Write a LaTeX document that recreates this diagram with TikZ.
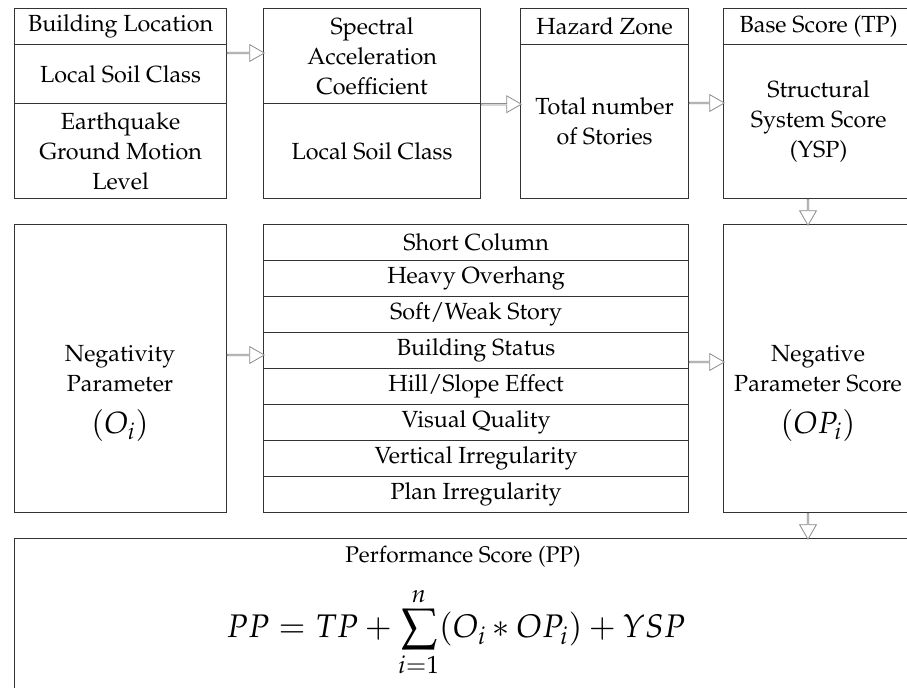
\documentclass[tikz,border=0pt]{standalone}
\usepackage[T1]{fontenc}
\usepackage{mathpazo}
\usetikzlibrary{shapes.arrows}

\begin{document}
\begin{tikzpicture}
  [x=0.75pt, y=-0.75pt
  ,box/.style={draw=black!80, line width=0.9pt, anchor=north west, align=center, inner sep=0pt, font=\fontsize{17.5}{22.5}\selectfont}
  ,txt/.style={align=center, inner sep=0pt, font=\fontsize{17.5}{22.5}\selectfont}
  ,flow/.style={single arrow, draw=black!45, fill=white, line width=0.6pt, inner sep=0pt, minimum width=12.5pt, single arrow head extend=3pt, single arrow tip angle=60, sloped, allow upside down}
  ,big/.style={font=\fontsize{23}{28}\selectfont}
  ]

  % Cell
  %
  % #1 - name
  % #2 - x position
  % #3 - y position
  % #4 - width
  % #5 - height
  % #6 - text
  \newcommand{\bcell}[6]{
    \node [box, minimum width=#4*0.75pt, minimum height=#5*0.75pt] (#1) at (#2,#3) {#6};
  }

  % Hollow arrow
  %
  % #1 - from
  % #2 - to
  % #3 - length
  \newcommand{\farrow}[3]{
    \path (#1) -- node [flow, minimum height=#3] {} (#2);
  }

  \useasboundingbox (0,0) rectangle (907,688);
  \clip (0,0) rectangle (907,688);

  % location
  \bcell{loc}{14}{8}{212}{36}{Building Location}
  \bcell{soil}{14}{44}{212}{59}{Local Soil Class}
  \bcell{motion}{14}{103}{212}{95}{Earthquake\\Ground Motion\\Level}

  % spectral
  \bcell{spec}{263}{8}{217}{95}{Spectral\\Acceleration\\Coefficient}
  \bcell{soil2}{263}{103}{217}{95}{Local Soil Class}

  % hazard
  \bcell{zone}{520}{8}{168}{36}{Hazard Zone}
  \bcell{stories}{520}{44}{168}{154}{Total number\\of Stories}

  % base score
  \bcell{base}{723}{8}{190}{36}{Base Score (TP)}
  \bcell{ysp}{723}{44}{190}{154}{Structural\\System Score\\(YSP)}

  % negativity
  \bcell{neg}{14}{224}{212}{288}{}
  \node [txt] (negl) at (120,393)
    {Negativity\\Parameter\\[9pt]{\fontsize{23}{28}\selectfont$(O_i)$}};

  % parameters
  \bcell{p1}{263}{224}{425}{36}{Short Column}
  \bcell{p2}{263}{260}{425}{36}{Heavy Overhang}
  \bcell{p3}{263}{296}{425}{36}{Soft/Weak Story}
  \bcell{p4}{263}{332}{425}{36}{Building Status}
  \bcell{p5}{263}{368}{425}{36}{Hill/Slope Effect}
  \bcell{p6}{263}{404}{425}{36}{Visual Quality}
  \bcell{p7}{263}{440}{425}{36}{Vertical Irregularity}
  \bcell{p8}{263}{476}{425}{36}{Plan Irregularity}

  % negative score
  \bcell{nps}{723}{224}{190}{288}{}
  \node [txt] (npsl) at (818,393)
    {Negative\\Parameter Score\\[9pt]{\fontsize{23}{28}\selectfont$(OP_i)$}};

  % performance
  \bcell{perf}{14}{538}{899}{160}{}
  \node [txt, font=\fontsize{17}{22}\selectfont] (title) at (463,557) {Performance Score (PP)};
  \node [big, font=\fontsize{24.5}{28}\selectfont] (formula) at (456,632)
    {$\displaystyle PP = TP + \sum_{i=1}^{n}(O_i * OP_i) + YSP$};

  % arrows
  \farrow{loc.east |- 0,53}{spec.west |- 0,53}{27.75pt}
  \farrow{spec.south east}{stories.west |- spec.south}{30pt}
  \farrow{stories.east |- 0,103}{ysp.west |- 0,103}{26.25pt}
  \farrow{808,0 |- ysp.south}{808,0 |- nps.north}{19.5pt}
  \farrow{neg.east |- 0,355}{p1.west |- 0,355}{27.75pt}
  \farrow{p4.east |- 0,362}{nps.west |- 0,362}{26.25pt}
  \farrow{808,0 |- nps.south}{808,0 |- perf.north}{19.5pt}

\end{tikzpicture}
\end{document}
